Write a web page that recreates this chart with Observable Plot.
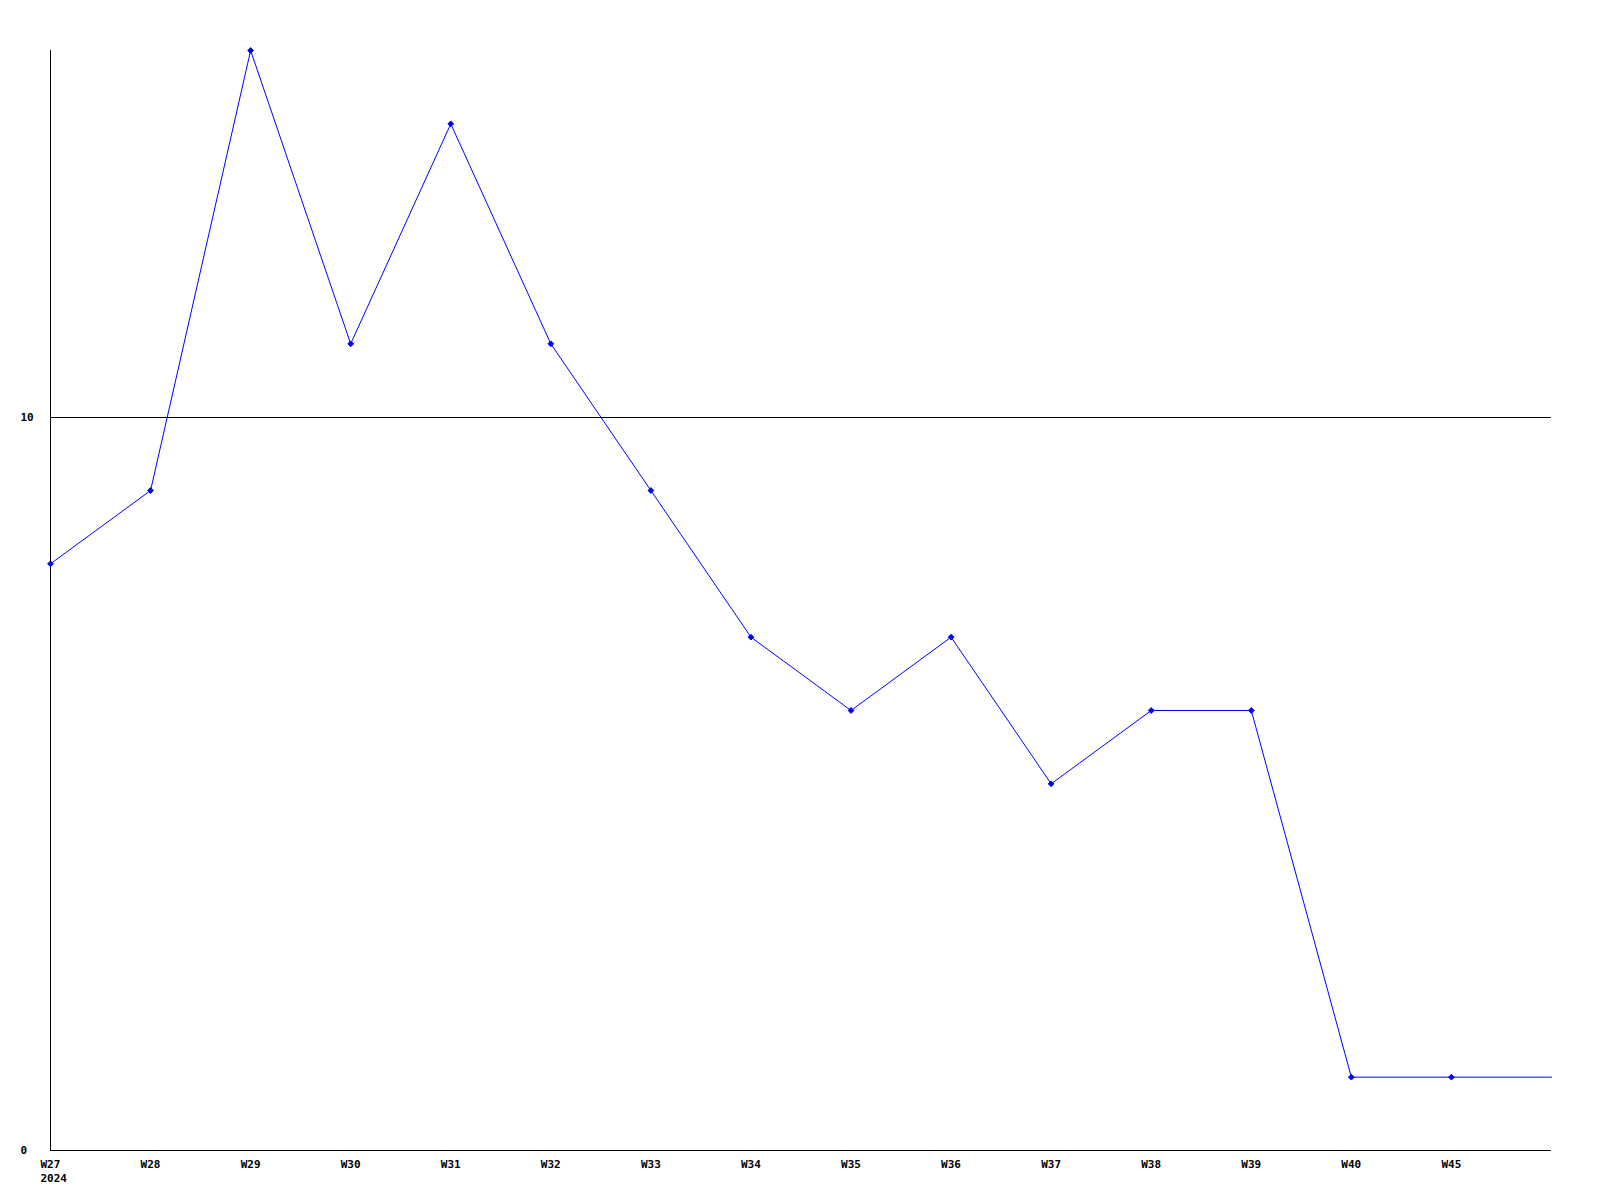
<!DOCTYPE html>
<html>
<head>
<meta charset="utf-8">
<script src="https://cdn.jsdelivr.net/npm/d3@7"></script>
<script src="https://cdn.jsdelivr.net/npm/@observablehq/plot@0.6"></script>
<style>
  html, body { margin: 0; padding: 0; background: #fff; }
  svg { display: block; }
</style>
</head>
<body>
<div id="chart"></div>
<script>
const weeks = ["W27","W28","W29","W30","W31","W32","W33","W34","W35","W36","W37","W38","W39","W40","W45"];
const yearLabel = "2024";
const values = [8, 9, 15, 11, 14, 11, 9, 7, 6, 7, 5, 6, 6, 1, 1];
const yTicks = [0, 10];
const slots = weeks.length + 1; // the line runs on to the right edge

const points = weeks.map((w, i) => ({i, week: w, value: values[i]}));
const linePts = [...points, {i: slots - 1, value: values[values.length - 1]}];
const xLabels = weeks.map((w, i) => ({i, label: i === 0 ? w + "\n" + yearLabel : w}));

const font = "'DejaVu Sans Mono', 'Liberation Mono', monospace";

const chart = Plot.plot({
  width: 1600,
  height: 1200,
  marginLeft: 50,
  marginRight: 49,
  marginTop: 50,
  marginBottom: 50,
  style: {fontFamily: font, fontSize: "11px", fontWeight: "bold", background: "#fff", color: "#000"},
  x: {domain: [0, slots - 1], axis: null},
  y: {domain: [0, 15], axis: null},
  marks: [
    Plot.ruleY(yTicks.filter(d => d !== 0), {stroke: "#000", strokeWidth: 1, shapeRendering: "crispEdges"}),
    Plot.ruleY([0], {stroke: "#000", strokeWidth: 1, shapeRendering: "crispEdges"}),
    Plot.ruleX([0], {stroke: "#000", strokeWidth: 1, shapeRendering: "crispEdges"}),
    Plot.axisY({ticks: yTicks, tickSize: 0, tickPadding: 30, textAnchor: "start", tickFormat: d => String(d), label: null, fontWeight: "bold"}),
    Plot.text(xLabels, {x: "i", frameAnchor: "bottom", text: "label", textAnchor: "start", lineAnchor: "top", dx: -10, dy: 7, fill: "#000", fontWeight: "bold", lineHeight: 1.3}),
    Plot.line(linePts, {x: "i", y: "value", stroke: "#0000ff", strokeWidth: 1}),
    Plot.dot(points, {x: "i", y: "value", symbol: "diamond2", r: 2.6, fill: "#0000ff", stroke: "#0000ff", strokeWidth: 1})
  ]
});
document.getElementById("chart").appendChild(chart);
</script>
</body>
</html>
